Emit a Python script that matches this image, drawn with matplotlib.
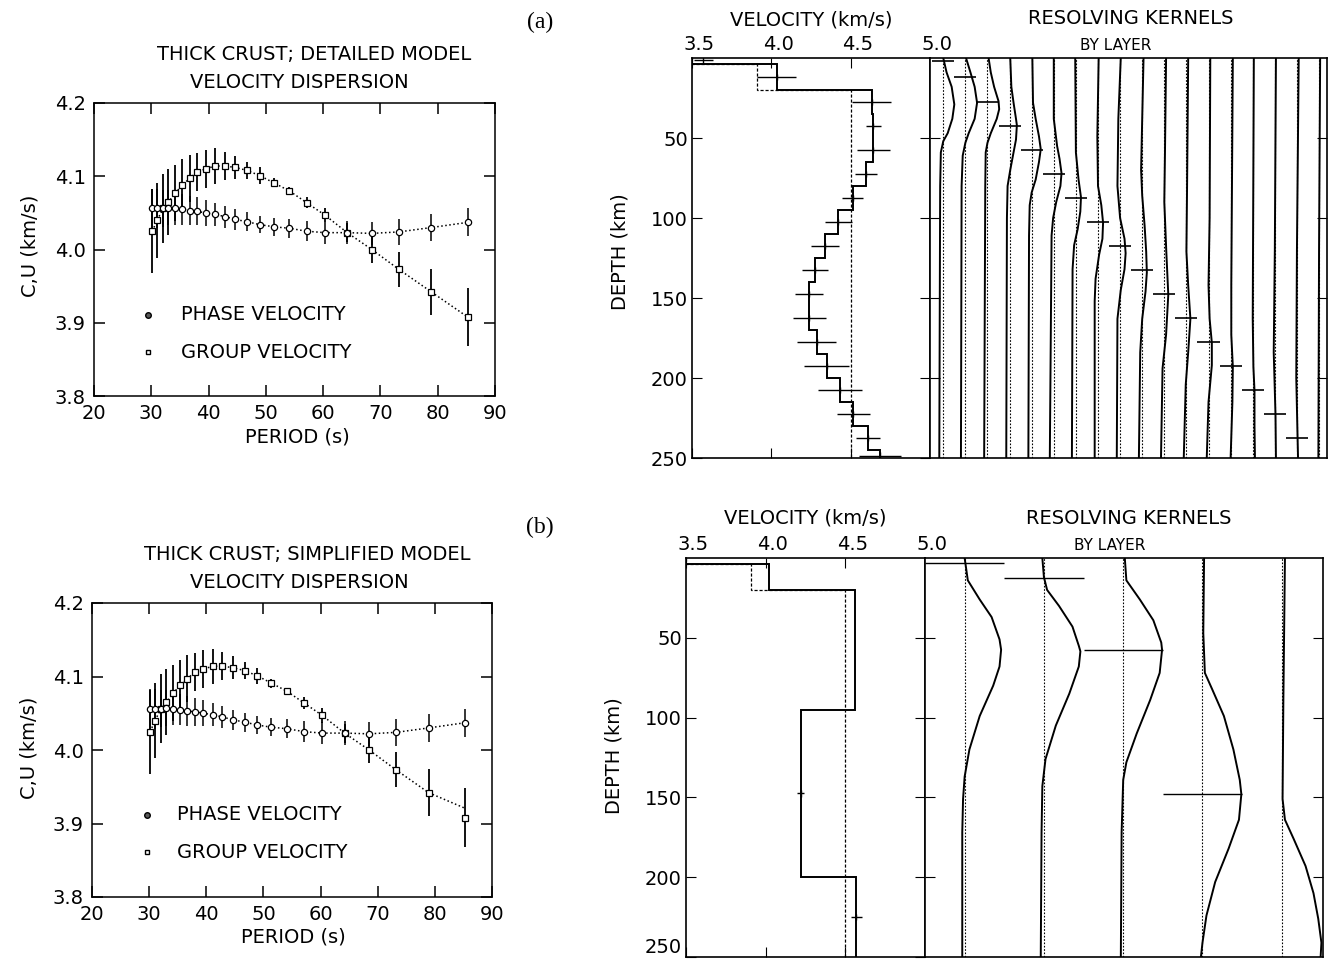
import numpy as np
import matplotlib.pyplot as plt
from matplotlib.transforms import ScaledTranslation

plt.rcParams['font.family'] = ['DejaVu Sans']

# ---- dispersion data (observed, same in a and b) ----
period = [30.2, 31.0, 32.1, 33.0, 34.2, 35.4, 36.7, 38.0, 39.5, 41.1, 42.8, 44.7,
          46.7, 48.9, 51.4, 54.1, 57.1, 60.3, 64.2, 68.5, 73.2, 78.9, 85.2]
phase_vel = [4.056, 4.056, 4.056, 4.057, 4.056, 4.055, 4.053, 4.052, 4.050, 4.048, 4.045, 4.041,
             4.038, 4.034, 4.031, 4.029, 4.025, 4.023, 4.023, 4.022, 4.024, 4.030, 4.037]
phase_err = [0.027, 0.027, 0.025, 0.024, 0.022, 0.021, 0.020, 0.019, 0.018, 0.016, 0.015, 0.014,
             0.013, 0.012, 0.012, 0.013, 0.014, 0.015, 0.016, 0.016, 0.018, 0.019, 0.019]
group_vel = [4.025, 4.040, 4.056, 4.065, 4.077, 4.088, 4.097, 4.106, 4.110, 4.114, 4.114, 4.112,
             4.108, 4.101, 4.091, 4.080, 4.064, 4.047, 4.023, 4.000, 3.973, 3.942, 3.908]
group_err = [0.057, 0.051, 0.047, 0.045, 0.038, 0.035, 0.032, 0.026, 0.026, 0.024, 0.019, 0.016,
             0.012, 0.011, 0.006, 0.005, 0.008, 0.010, 0.013, 0.018, 0.024, 0.032, 0.040]
# model predictions (dotted)
phase_fit_a = phase_vel
group_fit_a = group_vel
phase_fit_b = phase_vel
group_fit_b = [4.025, 4.040, 4.056, 4.065, 4.077, 4.088, 4.097, 4.106, 4.110, 4.114, 4.114, 4.112,
               4.108, 4.101, 4.091, 4.080, 4.064, 4.047, 4.023, 4.000, 3.973, 3.942, 3.921]

# ---- velocity models ----
tops_a = [0, 4, 20, 35, 50, 65, 80, 95, 110, 125, 140, 155, 170, 185, 200, 215, 230, 245]
vel_a = [3.5, 4.034, 4.632, 4.643, 4.643, 4.597, 4.513, 4.422, 4.338, 4.275, 4.239, 4.239,
         4.286, 4.349, 4.433, 4.517, 4.611, 4.685]
start_tops = [0, 4, 20]
start_vel = [3.5, 3.91, 4.5]
cross_depth_a = [1.5, 12, 27.5, 42.5, 57.5, 72.5, 87.5, 102.5, 117.5, 132.5, 147.5, 162.5,
                 177.5, 192.5, 207.5, 222.5, 237.5, 248.5]
cross_vel_a = [3.57, 4.034, 4.632, 4.643, 4.643, 4.597, 4.513, 4.422, 4.338, 4.275, 4.239, 4.239,
               4.286, 4.349, 4.433, 4.517, 4.611, 4.685]
cross_hw_a = [0.06, 0.124, 0.122, 0.048, 0.103, 0.067, 0.065, 0.084, 0.088, 0.082, 0.088, 0.103,
              0.124, 0.143, 0.137, 0.105, 0.076, 0.132]

tops_b = [0, 4, 20, 95, 200]
vel_b = [3.5, 4.018, 4.561, 4.22, 4.57]
cross_depth_b = [147.5, 225]
cross_vel_b = [4.22, 4.57]
cross_hw_b = [0.021, 0.036]

# ---- resolving kernels: (depth, shift in column widths) read per column ----
kern_a_depth = [
    [0, 9, 18, 29, 38, 47, 52, 59, 80, 120, 250],
    [0, 9, 18, 28, 38, 47, 53, 61, 80, 250],
    [0, 9, 18, 27, 32, 38, 47, 53, 59, 80, 250],
    [0, 18, 28, 38, 42, 51, 59, 70, 80, 100, 250],
    [0, 28, 38, 49, 57, 65, 76, 84, 92, 111, 250],
    [0, 38, 55, 63, 72, 80, 90, 100, 111, 250],
    [0, 59, 76, 87, 96, 107, 117, 132, 250],
    [0, 49, 80, 92, 103, 113, 123, 138, 152, 250],
    [0, 38, 80, 100, 113, 122, 132, 145, 163, 250],
    [0, 38, 70, 86, 105, 121, 134, 146, 163, 184, 250],
    [0, 59, 90, 121, 148, 173, 194, 250],
    [0, 80, 121, 142, 163, 184, 204, 250],
    [0, 100, 142, 163, 178, 192, 215, 250],
    [0, 142, 173, 193, 215, 250],
    [0, 163, 193, 208, 230, 250],
    [0, 120, 184, 223, 250],
    [0, 120, 200, 238, 250],
    [0, 120, 250],
]
kern_a_shift = [
    [0, 0.15, 0.38, 0.5, 0.41, 0.2, 0, -0.11, -0.14, -0.15, -0.18],
    [0.03, 0.23, 0.42, 0.53, 0.42, 0.15, 0, -0.12, -0.17, -0.2],
    [0.05, 0.15, 0.3, 0.5, 0.53, 0.42, 0.15, 0, -0.08, -0.1, -0.15],
    [0.03, 0.08, 0.18, 0.29, 0.33, 0.29, 0.18, 0.03, -0.09, -0.12, -0.15],
    [0.03, 0.06, 0.18, 0.33, 0.41, 0.33, 0.18, 0, -0.09, -0.12, -0.15],
    [0, 0, 0.15, 0.26, 0.35, 0.3, 0.11, -0.03, -0.1, -0.18],
    [-0.03, 0, 0.12, 0.23, 0.2, 0.08, -0.08, -0.15, -0.18],
    [0.03, -0.03, 0, 0.15, 0.23, 0.2, 0.05, -0.11, -0.15, -0.15],
    [0.03, -0.08, -0.12, 0, 0.2, 0.25, 0.2, 0.03, -0.12, -0.15],
    [0.06, 0, -0.05, 0, 0.11, 0.18, 0.21, 0.15, 0, -0.09, -0.15],
    [0.08, 0.03, 0, 0.09, 0.18, 0.08, -0.08, -0.15],
    [0.08, 0.03, 0, 0.08, 0.18, 0.08, -0.03, -0.12],
    [0.08, 0.05, 0, 0.05, 0.15, 0.15, 0, -0.08],
    [0.1, 0.03, 0.03, 0.1, 0.08, 0],
    [0.05, 0, 0.03, 0.08, 0.08, 0.1],
    [0.05, 0, -0.05, 0.03, 0.05],
    [0.08, 0, -0.03, 0.03, 0.05],
    [0.05, 0, -0.03],
]
mark_a_depth = [2, 12, 27.5, 42.5, 57.5, 72.5, 87.5, 102.5, 117.5, 132.5, 147.5, 162.5,
                177.5, 192.5, 207.5, 222.5, 237.5]

kern_b_depth = [
    [0, 14, 26, 37, 51, 57.5, 68, 80, 99, 120, 137, 151, 172, 250],
    [0, 12, 20, 30, 43, 55, 58.5, 68, 85, 105, 126, 143, 172, 250],
    [0, 14, 26, 39, 53, 57.5, 72, 89, 110, 128, 139, 172, 250],
    [0, 47, 72, 82, 99, 120, 139, 148, 164, 182, 203, 224, 241, 250],
    [0, 89, 151, 164, 176, 193, 210, 226, 241, 250],
]
kern_b_shift = [
    [0, 0.04, 0.19, 0.34, 0.44, 0.46, 0.44, 0.36, 0.19, 0.06, 0, -0.02, -0.03, -0.03],
    [-0.02, 0, 0.04, 0.19, 0.36, 0.44, 0.46, 0.44, 0.32, 0.15, 0.02, -0.02, -0.03, -0.04],
    [0.02, 0.04, 0.21, 0.38, 0.48, 0.49, 0.46, 0.34, 0.17, 0.04, 0, -0.02, -0.03],
    [0.02, 0.01, 0.03, 0.12, 0.27, 0.39, 0.47, 0.49, 0.46, 0.33, 0.16, 0.05, 0, -0.02],
    [0.04, 0.02, 0.01, 0.04, 0.15, 0.3, 0.4, 0.46, 0.5, 0.49],
]
mark_b_depth = [3, 12.5, 57.5, 148]

W, H = 1330, 959
fig = plt.figure(figsize=(W / 100, H / 100), dpi=100)


def box(x0, y0, x1, y1):
    # pixel box -> figure fraction rect
    return [x0 / W, 1 - y1 / H, (x1 - x0) / W, (y1 - y0) / H]


def ftext(x, y, s, **kw):
    kw.setdefault('ha', 'center')
    kw.setdefault('va', 'center')
    kw.setdefault('fontsize', 14)
    fig.text(x / W, 1 - y / H, s, **kw)


def dispersion_panel(rect, group_fit, phase_fit, leg_x, leg_tx, leg_y):
    ax = fig.add_axes(rect)
    ax.plot(period, phase_fit, ls=':', color='k', lw=1.1)
    ax.plot(period, group_fit, ls=':', color='k', lw=1.1)
    ax.errorbar(period, group_vel, yerr=group_err, fmt='s', ms=4, mfc='white', mec='k',
                mew=0.9, ecolor='k', elinewidth=1.3, capsize=0)
    ax.errorbar(period, phase_vel, yerr=phase_err, fmt='o', ms=4.5, mfc='white', mec='k',
                mew=0.9, ecolor='k', elinewidth=1.1, capsize=0)
    ax.set_xlim(20, 90)
    ax.set_ylim(3.8, 4.2)
    ax.set_xticks(range(20, 91, 10))
    ax.set_yticks([3.8, 3.9, 4.0, 4.1, 4.2])
    ax.tick_params(direction='in', length=8, width=1.1, top=True, right=True,
                   labelsize=14, pad=6)
    for sp in ax.spines.values():
        sp.set_linewidth(1.1)
    # legend
    ax.plot([leg_x / W], [1 - leg_y[0] / H], 'o', ms=4, mfc='0.35', mec='k',
            transform=fig.transFigure, clip_on=False)
    ax.plot([leg_x / W], [1 - leg_y[1] / H], 's', ms=3.5, mfc='white', mec='k',
            transform=fig.transFigure, clip_on=False)
    ftext(leg_tx, leg_y[0], 'PHASE VELOCITY', ha='left')
    ftext(leg_tx, leg_y[1], 'GROUP VELOCITY', ha='left')
    return ax


ax1 = dispersion_panel(box(94, 103, 495, 396), group_fit_a, phase_fit_a, 148, 181, (315, 352))
ax2 = dispersion_panel(box(92, 603, 492, 897), group_fit_b, phase_fit_b, 147, 177, (815, 852))

ftext(314, 55, 'THICK CRUST; DETAILED MODEL')
ftext(299, 83, 'VELOCITY DISPERSION')
ftext(30, 246, 'C,U (km/s)', rotation=90)
ftext(297, 437, 'PERIOD (s)')
ftext(307, 555, 'THICK CRUST; SIMPLIFIED MODEL')
ftext(299, 582, 'VELOCITY DISPERSION')
ftext(29, 748, 'C,U (km/s)', rotation=90)
ftext(293, 937, 'PERIOD (s)')
ftext(540, 22, '(a)', family='Liberation Serif', fontsize=17)
ftext(540, 527, '(b)', family='Liberation Serif', fontsize=17)


def velocity_panel(rect, tops, vel, cd, cv, chw):
    ax = fig.add_axes(rect)
    ax.stairs(start_vel, start_tops + [250], orientation='horizontal', baseline=None,
              color='k', lw=0.9, ls=(0, (2.5, 1.5)))
    ax.stairs(vel, tops + [250], orientation='horizontal', baseline=None, color='k', lw=1.4)
    ax.errorbar(cv, cd, xerr=chw, yerr=2, fmt='none', ecolor='k', elinewidth=1.0, capsize=0)
    ax.set_xlim(3.5, 5.0)
    ax.set_ylim(250, 0)
    ax.set_xticks([3.5, 4.0, 4.5, 5.0])
    ax.set_xticklabels(['3.5', '4.0', '4.5', '5.0'])
    ax.set_yticks([50, 100, 150, 200, 250])
    ax.tick_params(axis='x', direction='in', length=7, top=True, bottom=True,
                   labeltop=True, labelbottom=False, labelsize=14, pad=3)
    ax.tick_params(axis='y', direction='in', length=7, left=True, right=True,
                   labelsize=14, pad=3)
    off = ScaledTranslation(7 / 100, 0, fig.dpi_scale_trans)
    for lab in ax.get_xticklabels():
        lab.set_transform(lab.get_transform() + off)
    for sp in ax.spines.values():
        sp.set_linewidth(1.2)
    return ax


def kernel_panel(rect, xlim, kd, ks, md, mlw):
    ax = fig.add_axes(rect)
    for i, (d, s) in enumerate(zip(kd, ks), start=1):
        ax.axvline(i, color='k', lw=0.8, ls=(0, (1.5, 1.5)))
        ax.plot(i + np.array(s), d, color='k', lw=1.4)
    cols = np.arange(1, len(md) + 1)
    ax.hlines(md, cols - 0.5, cols + 0.5, color='k', lw=mlw)
    ax.set_xlim(*xlim)
    ax.set_ylim(250, 0)
    ax.set_xticks([])
    ax.set_yticks([50, 100, 150, 200])
    ax.tick_params(axis='y', direction='in', length=7, left=True, right=True,
                   labelleft=False)
    for sp in ax.spines.values():
        sp.set_linewidth(1.2)
    return ax


velocity_panel(box(692, 58, 930, 458), tops_a, vel_a, cross_depth_a, cross_vel_a, cross_hw_a)
kernel_panel(box(930, 58, 1327, 458), (0.4, 18.36), kern_a_depth, kern_a_shift, mark_a_depth, 1.2)
axb = velocity_panel(box(686, 558, 925, 957), tops_b, vel_b, cross_depth_b, cross_vel_b, cross_hw_b)
kernel_panel(box(925, 558, 1323, 957), (0.5, 5.52), kern_b_depth, kern_b_shift, mark_b_depth, 1.0)
# the 250 label sits just above the page edge
axb.get_yticklabels()[-1].set_verticalalignment('bottom')

ftext(811, 20, 'VELOCITY (km/s)')
ftext(620, 252, 'DEPTH (km)', rotation=90)
ftext(1131, 18, 'RESOLVING KERNELS')
ftext(1116, 46, 'BY LAYER', fontsize=11)
ftext(805, 518, 'VELOCITY (km/s)')
ftext(614, 756, 'DEPTH (km)', rotation=90)
ftext(1129, 519, 'RESOLVING KERNELS')
ftext(1110, 545, 'BY LAYER', fontsize=11)

fig.savefig('out.png', dpi=100)
